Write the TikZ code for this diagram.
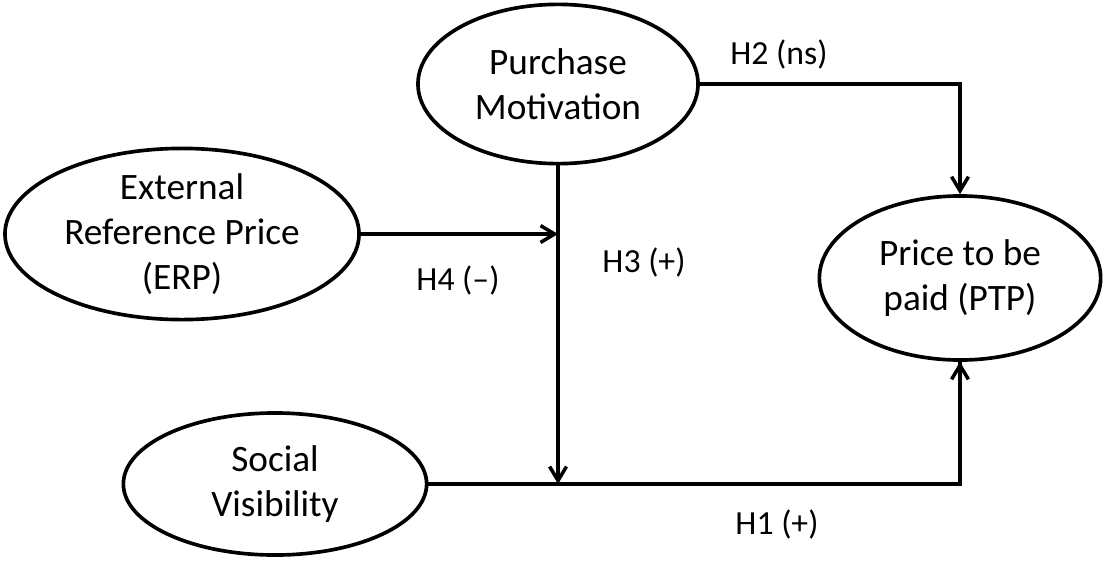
\documentclass[tikz,border=0pt]{standalone}
\usepackage{fontspec}
\setmainfont{Carlito}
\usetikzlibrary{shapes.geometric,arrows.meta}

\tikzset{
    construct/.style={ellipse,draw,line width=2.6pt,align=center,inner sep=0pt},
    hyp/.style={font=\fontsize{24}{30}\selectfont}
}

\begin{document}
\begin{tikzpicture}[x=0.025cm,y=-0.025cm,>={Straight Barb[length=10pt,width=12pt]},line width=2.5pt,
    font=\fontsize{26.5}{32}\selectfont]
    \useasboundingbox (0,0) rectangle (1105,560);

    % Constructs
    \node[construct,minimum width=7.0cm,minimum height=3.98cm] (pm) at (558,84) {Purchase\\Motivation};
    \node[construct,minimum width=8.85cm,minimum height=4.05cm] (erp) at (182,234) {External\\Reference Price\\(ERP)};
    \node[construct,minimum width=7.03cm,minimum height=4.1cm] (ptp) at (960,278) {Price to be\\paid (PTP)};
    \node[construct,minimum width=7.58cm,minimum height=3.55cm] (sv) at (275,484) {Social\\Visibility};

    % Meeting points on the paths
    \coordinate (modpt) at (pm.south |- erp.east);
    \coordinate (mainpt) at (pm.south |- sv.east);

    % Paths
    \draw[->] (pm.east) -| (ptp.north);
    \draw (sv.east) -| (ptp.south);
    \draw[->] (ptp.south |- sv.east) -- (ptp.south);
    \draw[->] (pm.south) -- (mainpt);
    \draw[->] (erp.east) -- (modpt);

    % Hypothesis labels
    \node[hyp] (h2) at (779,54) {H2 (ns)};
    \node[hyp] (h4) at (458,280) {H4 (--)};
    \node[hyp] (h3) at (644,262) {H3 (+)};
    \node[hyp] (h1) at (777,524) {H1 (+)};

\end{tikzpicture}
\end{document}
